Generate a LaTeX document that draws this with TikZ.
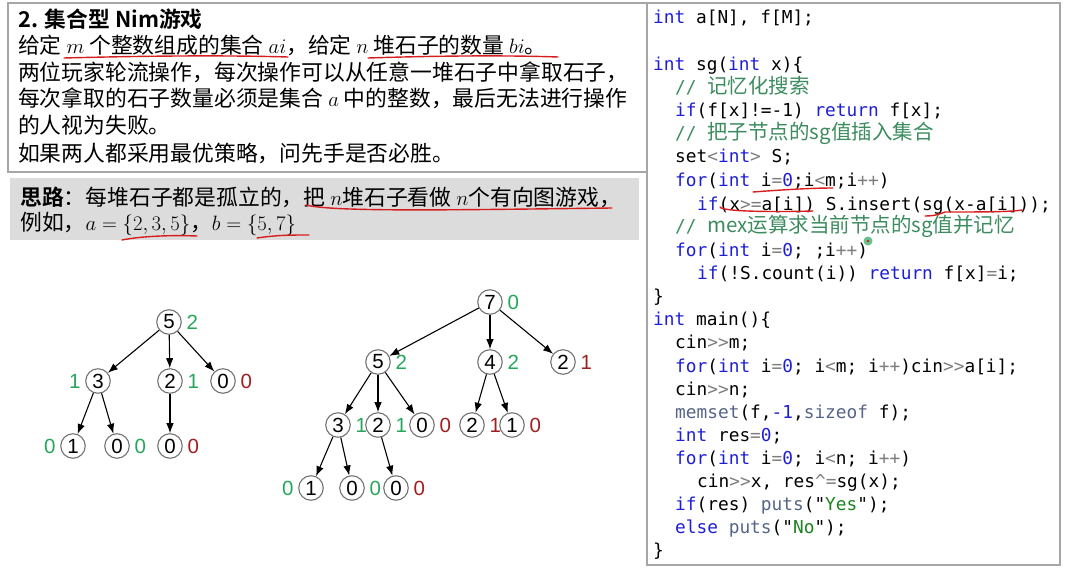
\documentclass[tikz,border=0pt]{standalone}
\usepackage{fontspec}
\setmainfont{Liberation Sans}
\setmonofont{DejaVu Sans Mono}
\newfontfamily\zh[BoldFont={Noto Sans CJK SC Bold}]{Noto Sans CJK SC}
\usepackage{tikz}
\usetikzlibrary{arrows.meta}

\definecolor{sgwin}{RGB}{38,166,91}
\definecolor{sglose}{RGB}{160,30,30}
\definecolor{kwblue}{RGB}{30,30,215}
\definecolor{opgray}{RGB}{125,125,125}
\definecolor{fnslate}{RGB}{85,100,135}
\definecolor{cmgreen}{RGB}{60,140,95}
\definecolor{strgreen}{RGB}{30,130,30}
\definecolor{inkred}{RGB}{215,30,30}
\definecolor{boxgray}{RGB}{220,220,220}

\newcommand{\kw}[1]{\textcolor{kwblue}{#1}}
\newcommand{\op}[1]{\textcolor{opgray}{#1}}
\newcommand{\fn}[1]{\textcolor{fnslate}{#1}}
\newcommand{\nm}[1]{\textcolor{kwblue}{#1}}
\newcommand{\strg}[1]{\textcolor{strgreen}{#1}}
\newcommand{\cm}[1]{\textcolor{cmgreen}{// {\zh\fontsize{20.5}{20}\selectfont #1}}}
\newcommand{\sgfont}{\fontsize{20.5}{20}\selectfont}

\tikzset{
  txt/.style={anchor=base west,inner sep=0pt,font=\zh\fontsize{21.8}{26}\selectfont},
  code/.style={anchor=base west,inner sep=0pt,font=\ttfamily\fontsize{17.8}{20}\selectfont},
  st/.style={circle,draw=gray!90!black,line width=1.1pt,minimum size=24.5pt,inner sep=0pt,font=\sgfont},
  win/.style={text=sgwin,inner sep=4.5pt,font=\sgfont},
  lose/.style={text=sglose,inner sep=4.5pt,font=\sgfont},
  sgarrow/.style={-{Latex[length=10pt,width=7.5pt]},line width=1.1pt},
  ink/.style={draw=inkred,line width=1.4pt,line cap=round},
  boxline/.style={draw=gray!70,line width=1.2pt}
}

\begin{document}
\begin{tikzpicture}[x=1pt,y=-1pt,label distance=0pt]
\useasboundingbox (0,0) rectangle (1066,575);
% frames
\draw[boxline](8,3)rectangle(647,172);
\fill[boxgray](10,178)rectangle(639,240);
\draw[boxline](647,3)rectangle(1060,565);

% problem text
\node[txt](q1)at(18,28){\bfseries 2. 集合型 Nim游戏};
\node[txt](q2)at(18,54){给定 $m$ 个整数组成的集合 $ai$，给定 $n$ 堆石子的数量 $bi$。};
\node[txt](q3)at(18,81){两位玩家轮流操作，每次操作可以从任意一堆石子中拿取石子，};
\node[txt](q4)at(18,107){每次拿取的石子数量必须是集合 $a$ 中的整数，最后无法进行操作};
\node[txt](q5)at(18,134){的人视为失败。};
\node[txt](q6)at(18,161){如果两人都采用最优策略，问先手是否必胜。};
\node[txt](h1)at(20,205){\textbf{思路}：每堆石子都是孤立的，把 $n$堆石子看做 $n$个有向图游戏，};
\node[txt](h2)at(20,230){例如，$a=\{2,3,5\}$，$b=\{5,7\}$};

% red marks
\draw[ink](64,58)..controls(140,56)and(220,55)..(288,57);
\draw[ink](368,58)..controls(430,56)and(500,55)..(558,57);
\draw[ink](306,205)..controls(333,212)and(450,210)..(612,208);
\draw[ink](122,240)..controls(142,236)and(172,235)..(197,236);
\draw[ink](257,238)..controls(277,235)and(292,235)..(309,235);

% left tree
\node[st,label={[win]right:2}](a5)at(169,322){5};
\node[st,label={[win]left:1}](a3)at(98,381){3};
\node[st,label={[win]right:1}](a2)at(170,381){2};
\node[st,label={[lose]right:0}](a0)at(223,381){0};
\node[st,label={[win]left:0}](a1)at(73,446){1};
\node[st,label={[win]right:0}](a0b)at(117,446){0};
\node[st,label={[lose]right:0}](a0c)at(170,446){0};
\draw[sgarrow](a5)--(a3);
\draw[sgarrow](a5)--(a2);
\draw[sgarrow](a5)--(a0);
\draw[sgarrow](a3)--(a1);
\draw[sgarrow](a3)--(a0b);
\draw[sgarrow](a2)--(a0c);

% right tree
\node[st,label={[win]right:0}](b7)at(490,302){7};
\node[st,label={[win]right:2}](b5)at(378,362){5};
\node[st,label={[win]right:2}](b4)at(490,362){4};
\node[st,label={[lose]right:1}](b2)at(563,362){2};
\node[st,label={[win]right:1}](b3)at(338,425){3};
\node[st,label={[win]right:1}](b2b)at(378,425){2};
\node[st,label={[lose]right:0}](b0)at(422,425){0};
\node[st,label={[lose]right:1}](b2c)at(472,425){2};
\node[st,label={[lose]right:0}](b1)at(512,425){1};
\node[st,label={[win]left:0}](b1b)at(311,488){1};
\node[st,label={[win]right:0}](b0b)at(352,488){0};
\node[st,label={[lose]right:0}](b0c)at(396,488){0};
\draw[sgarrow](b7)--(b5);
\draw[sgarrow](b7)--(b4);
\draw[sgarrow](b7)--(b2);
\draw[sgarrow](b5)--(b3);
\draw[sgarrow](b5)--(b2b);
\draw[sgarrow](b5)--(b0);
\draw[sgarrow](b4)--(b2c);
\draw[sgarrow](b4)--(b1);
\draw[sgarrow](b3)--(b1b);
\draw[sgarrow](b3)--(b0b);
\draw[sgarrow](b2b)--(b0c);

% code
\node[code](c1)at(653,24){\kw{int} a[N], f[M];};
\node[code](c2)at(653,71){\kw{int} sg(\kw{int} x)\{};
\node[code](c3)at(675,94){\cm{记忆化搜索}};
\node[code](c4)at(675,117){\kw{if}(f[x]!=-1) \kw{return} f[x];};
\node[code](c5)at(675,140){\cm{把子节点的sg值插入集合}};
\node[code](c6)at(675,163){set\op{<}\kw{int}\op{>} S;};
\node[code](c7)at(675,186){\kw{for}(\kw{int} i\op{=}\nm{0};i\op{<}m;i\op{++})};
\node[code](c8)at(697,210){\kw{if}(x\op{>=}a[i]) S.insert(sg(x-a[i]));};
\node[code](c9)at(675,233){\cm{mex运算求当前节点的sg值并记忆}};
\node[code](c10)at(675,256){\kw{for}(\kw{int} i\op{=}\nm{0}; ;i\op{++})};
\node[code](c11)at(697,279){\kw{if}(!S.count(i)) \kw{return} f[x]\op{=}i;};
\node[code](c12)at(653,302){\}};
\node[code](c13)at(653,325){\kw{int} main()\{};
\node[code](c14)at(675,348){cin\op{>>}m;};
\node[code](c15)at(675,372){\kw{for}(\kw{int} i\op{=}\nm{0}; i\op{<}m; i\op{++})cin\op{>>}a[i];};
\node[code](c16)at(675,395){cin\op{>>}n;};
\node[code](c17)at(675,418){\fn{memset}(f,\nm{-1},\fn{sizeof} f);};
\node[code](c18)at(675,441){\kw{int} res\op{=}\nm{0};};
\node[code](c19)at(675,464){\kw{for}(\kw{int} i\op{=}\nm{0}; i\op{<}n; i\op{++})};
\node[code](c20)at(697,487){cin\op{>>}x, res\op{\textasciicircum=}sg(x);};
\node[code](c21)at(675,510){\kw{if}(res) \fn{puts}("\strg{Yes}");};
\node[code](c22)at(675,533){\kw{else} \fn{puts}("\strg{No}");};
\node[code](c23)at(653,556){\}};

% marks in the code
\draw[ink](753,192)..controls(780,190)and(810,188)..(833,188);
\draw[ink](720,207)..controls(722,212)and(780,212)..(813,211);
\draw[ink](925,216)..controls(935,216)and(940,214)..(945,212)..controls(980,212)and(1010,212)..(1022,210);
\fill[sgwin!70](868,241)circle(4.5pt);
\fill[inkred](868,241)circle(1.3pt);
\end{tikzpicture}
\end{document}
